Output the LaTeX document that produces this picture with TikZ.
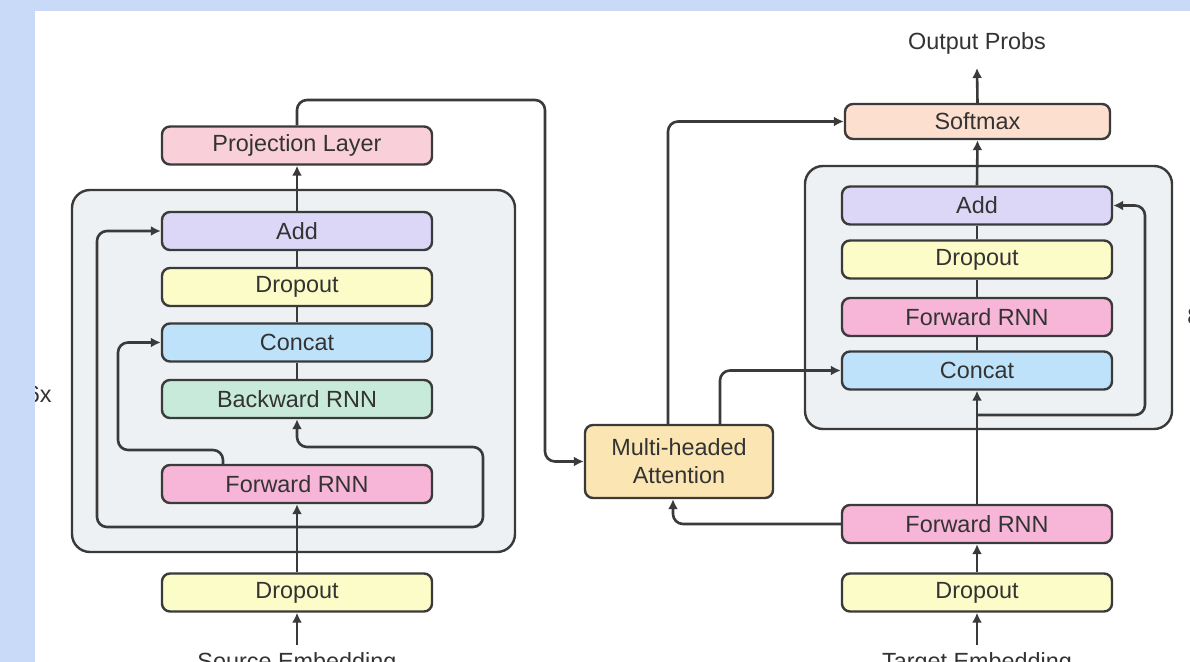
\documentclass[tikz,border=0pt]{standalone}
\usepackage{fontspec}
\setmainfont{Liberation Sans}
\usetikzlibrary{arrows.meta}

\definecolor{bgblue}{HTML}{C9DAF8}
\definecolor{edge}{HTML}{3A3A3A}
\definecolor{txt}{HTML}{333333}
\definecolor{grpfill}{HTML}{EEF1F3}
\definecolor{projpink}{HTML}{F9D0DA}
\definecolor{addpurple}{HTML}{DCD6F7}
\definecolor{dropyellow}{HTML}{FCFCC9}
\definecolor{catblue}{HTML}{BFE2FB}
\definecolor{bwdgreen}{HTML}{C8EADB}
\definecolor{fwdpink}{HTML}{F7B6D8}
\definecolor{softpeach}{HTML}{FDDFD0}
\definecolor{attorange}{HTML}{FBE6B3}

\tikzset{
  blk/.style={draw=edge,line width=1.2pt,rounded corners=4pt,minimum width=135pt,
    minimum height=19pt,inner sep=0pt,text=txt,font=\fontsize{11.7}{14}\selectfont},
  grp/.style={draw=edge,fill=grpfill,line width=1.2pt,rounded corners=9pt},
  lbl/.style={text=txt,inner sep=0pt,font=\fontsize{11.7}{14}\selectfont},
  wire/.style={draw=edge,line width=1.3pt},
  arr/.style={wire,-{Latex[length=5pt,width=5pt]}},
}

\begin{document}
\begin{tikzpicture}[x=0.5pt,y=-0.5pt]
\useasboundingbox (0,0) rectangle (1190,662);
\clip (0,0) rectangle (1190,662);
\fill[white] (0,0) rectangle (1190,662);

% encoder
\draw[grp] (72,190) rectangle (515,552);
\node[blk,fill=projpink] (proj) at (297,145.5) {Projection Layer};
\node[blk,fill=addpurple] (addL) at (297,231) {Add};
\node[blk,fill=dropyellow] (dropL) at (297,287) {Dropout};
\node[blk,fill=catblue] (catL) at (297,342.5) {Concat};
\node[blk,fill=bwdgreen] (bwdL) at (297,399) {Backward RNN};
\node[blk,fill=fwdpink] (fwdL) at (297,484) {Forward RNN};
\node[blk,fill=dropyellow] (dropSrc) at (297,592.5) {Dropout};
\node[lbl,anchor=base] (srcEmb) at (297,670) {Source Embedding};
\node[lbl,anchor=base east] (repL) at (52,403) {6x};
\coordinate (xin) at (297,527);

\draw[arr] ([yshift=4pt]srcEmb.north) -- (dropSrc.south);
\draw[arr] (dropSrc.north) -- (fwdL.south);
\draw[arr,rounded corners=5pt] (xin) -| (97,380) |- (addL.west);
\draw[arr,rounded corners=5pt] (xin) -| (483,480) |- (297,447) -- (bwdL.south);
\draw[arr,rounded corners=5pt] ([xshift=-37pt]fwdL.north) |- (118,450) |- (catL.west);
\draw[wire] (bwdL) -- (catL) -- (dropL) -- (addL);
\draw[arr] (addL.north) -- (proj.south);

% attention
\node[blk,fill=attorange,minimum width=94pt,minimum height=36.5pt,align=center]
  (mha) at (679,461.5) {Multi-headed\\Attention};
\draw[arr,rounded corners=5pt] (proj.north) |- (545,100) |- (mha.west);

% decoder
\draw[grp] (805,166) rectangle (1172,429);
\node[blk,fill=softpeach,minimum width=132.5pt,minimum height=17.5pt] (soft) at (977.5,121.5) {Softmax};
\node[blk,fill=addpurple] (addR) at (977,205.5) {Add};
\node[blk,fill=dropyellow] (dropR) at (977,259.5) {Dropout};
\node[blk,fill=fwdpink] (fwdR) at (977,317) {Forward RNN};
\node[blk,fill=catblue] (catR) at (977,370.5) {Concat};
\node[blk,fill=fwdpink] (fwdTgt) at (977,524) {Forward RNN};
\node[blk,fill=dropyellow] (dropTgt) at (977,592.5) {Dropout};
\node[lbl,anchor=base] (tgtEmb) at (977,670) {Target Embedding};
\node[lbl,anchor=base] (outProbs) at (977,50) {Output Probs};
\node[lbl,anchor=base west] (repR) at (1187,325) {8x};
\coordinate (probs) at (977,68);
\coordinate (yin) at (977,415);

\draw[arr] ([yshift=4pt]tgtEmb.north) -- (dropTgt.south);
\draw[arr] (dropTgt.north) -- (fwdTgt.south);
\draw[arr] (fwdTgt.north) -- (catR.south);
\draw[wire] (catR) -- (fwdR) -- (dropR) -- (addR);
\draw[arr,rounded corners=5pt] (yin) -| (1145,300) |- (addR.east);
\draw[arr] (addR.north) -- (soft.south);
\draw[arr] (soft.north) -- (probs);

\draw[arr,rounded corners=5pt] ([xshift=-5.5pt]mha.north) |- (soft.west);
\draw[arr,rounded corners=5pt] ([xshift=20.5pt]mha.north) |- (catR.west);
\draw[arr,{Latex[length=5pt,width=5pt]}-,rounded corners=5pt] ([xshift=-3pt]mha.south) |- (fwdTgt.west);

% page margin
\fill[bgblue] (0,0) rectangle (35,662);
\fill[bgblue] (0,0) rectangle (1190,11);
\end{tikzpicture}
\end{document}
